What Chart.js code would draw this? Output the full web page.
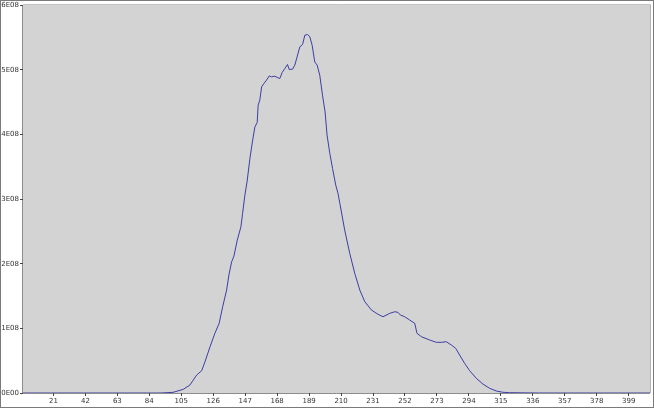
<!DOCTYPE html>
<html>
<head>
<meta charset="utf-8">
<script src="https://cdn.jsdelivr.net/npm/chart.js@4/dist/chart.umd.min.js"></script>
<style>
    html, body { margin: 0; padding: 0; background: #ffffff; }
    #wrap { width: 654px; height: 408px; }
</style>
</head>
<body>
<div id="wrap"><canvas id="histChart" width="654" height="408"></canvas></div>
<script>
// x positions and values (in units of 1E08)
const xValues = [
    1, 60, 91, 99.6, 106.3, 110.7, 115.1, 118.4, 120.6, 123.9, 127.1, 129.9,
    132.2, 134.8, 136.3, 138.1, 139.6, 141.8, 144.2, 145.3, 146.8, 148.3,
    150.1, 151.9, 153.4, 154.9, 155.5, 156.6, 157.8, 159.3, 161.0, 162.8,
    164.3, 166.5, 168.0, 169.8, 171.3, 173.1, 174.8, 175.9, 178.1, 179.6,
    181.1, 182.9, 184.7, 186.2, 188.0, 189.5, 191.0, 192.7, 194.3, 196.0,
    197.8, 199.5, 200.8, 202.6, 204.4, 206.5, 208.0, 209.2, 212.4, 215.7,
    219.0, 222.3, 225.6, 230.0, 234.3, 237.6, 242.0, 245.2, 247.4, 249.0,
    251.8, 255.1, 258.4, 259.9, 262.8, 268.2, 272.6, 275.9, 279.2, 282.5,
    285.3, 287.9, 291.2, 294.5, 298.9, 303.2, 307.6, 312.0, 316.4, 320.8,
    340, 413
];
const yValues = [
    0, 0, 0, 0.01, 0.057, 0.124, 0.278, 0.345, 0.484, 0.716, 0.923, 1.078,
    1.334, 1.593, 1.825, 2.030, 2.118, 2.366, 2.572, 2.779, 3.06, 3.28,
    3.629, 3.912, 4.118, 4.186, 4.453, 4.531, 4.736, 4.789, 4.840, 4.906,
    4.891, 4.902, 4.882, 4.866, 4.959, 5.021, 5.083, 5.006, 5.010, 5.072,
    5.200, 5.355, 5.392, 5.536, 5.547, 5.510, 5.381, 5.123, 5.072, 4.917,
    4.608, 4.350, 3.989, 3.707, 3.475, 3.216, 3.088, 2.933, 2.520, 2.160,
    1.851, 1.593, 1.412, 1.283, 1.217, 1.180, 1.232, 1.257, 1.248, 1.206,
    1.180, 1.129, 1.078, 0.923, 0.871, 0.820, 0.784, 0.784, 0.793, 0.742,
    0.691, 0.588, 0.459, 0.345, 0.227, 0.139, 0.073, 0.031, 0.011, 0.005,
    0, 0
];
const xTicks = [21, 42, 63, 84, 105, 126, 147, 168, 189, 210, 231, 252, 273, 294, 315, 336, 357, 378, 399];
const yTicks = [0, 1, 2, 3, 4, 5, 6];
const UNIT = 1e8;

const formatSci = (v) => {
    if (v === 0) return '0E00';
    const exp = Math.floor(Math.log10(Math.abs(v)));
    const mant = Math.round(v / Math.pow(10, exp));
    return mant + 'E' + String(exp).padStart(2, '0');
};

// grey plot area with a thin frame, plus an outer frame round the picture
const frames = {
    id: 'frames',
    beforeDraw(chart) {
        const { ctx, chartArea: a, width, height } = chart;
        ctx.save();
        ctx.fillStyle = '#d3d3d3';
        ctx.fillRect(a.left, a.top, a.right - a.left, a.bottom - a.top);
        ctx.lineWidth = 1;
        ctx.strokeStyle = '#b4b4b4';
        ctx.beginPath();
        ctx.moveTo(a.left, a.top - 0.5);
        ctx.lineTo(a.right + 0.5, a.top - 0.5);
        ctx.lineTo(a.right + 0.5, a.bottom);
        ctx.stroke();
        ctx.strokeStyle = '#8c8c8c';
        ctx.beginPath();
        ctx.moveTo(a.left - 0.5, a.top);
        ctx.lineTo(a.left - 0.5, a.bottom + 0.5);
        ctx.lineTo(a.right, a.bottom + 0.5);
        ctx.stroke();
        ctx.strokeStyle = '#7a7a7a';
        ctx.strokeRect(0.5, 0.5, width - 1, height - 1);
        ctx.restore();
    }
};

document.addEventListener('DOMContentLoaded', () => {
    const ctx = document.getElementById('histChart').getContext('2d');

    new Chart(ctx, {
        type: 'line',
        data: {
            datasets: [{
                data: xValues.map((x, i) => ({ x: x, y: yValues[i] * UNIT })),
                borderColor: '#3d3da3',
                borderWidth: 1,
                pointRadius: 0,
                fill: false,
                tension: 0
            }]
        },
        options: {
            responsive: false,
            animation: false,
            layout: { padding: { top: 5, right: 4, left: 0, bottom: 0 } },
            plugins: { legend: { display: false }, tooltip: { enabled: false } },
            scales: {
                x: {
                    type: 'linear',
                    min: 1,
                    max: 413,
                    afterBuildTicks: (scale) => { scale.ticks = xTicks.map(v => ({ value: v })); },
                    afterFit: (scale) => { scale.height = 15; },
                    border: { display: false },
                    grid: { drawOnChartArea: false, tickLength: 3, color: '#444444' },
                    ticks: {
                        maxRotation: 0,
                        autoSkip: false,
                        padding: 1,
                        color: '#333333',
                        font: { family: 'DejaVu Sans', size: 7 }
                    }
                },
                y: {
                    min: 0,
                    max: 6 * UNIT,
                    afterBuildTicks: (scale) => { scale.ticks = yTicks.map(v => ({ value: v * UNIT })); },
                    afterFit: (scale) => { scale.width = 23; },
                    border: { display: false },
                    grid: { drawOnChartArea: false, tickLength: 3, color: '#444444' },
                    ticks: {
                        padding: 1,
                        color: '#333333',
                        font: { family: 'DejaVu Sans', size: 7 },
                        callback: (v) => formatSci(v)
                    }
                }
            }
        },
        plugins: [frames]
    });
});
</script>
</body>
</html>
